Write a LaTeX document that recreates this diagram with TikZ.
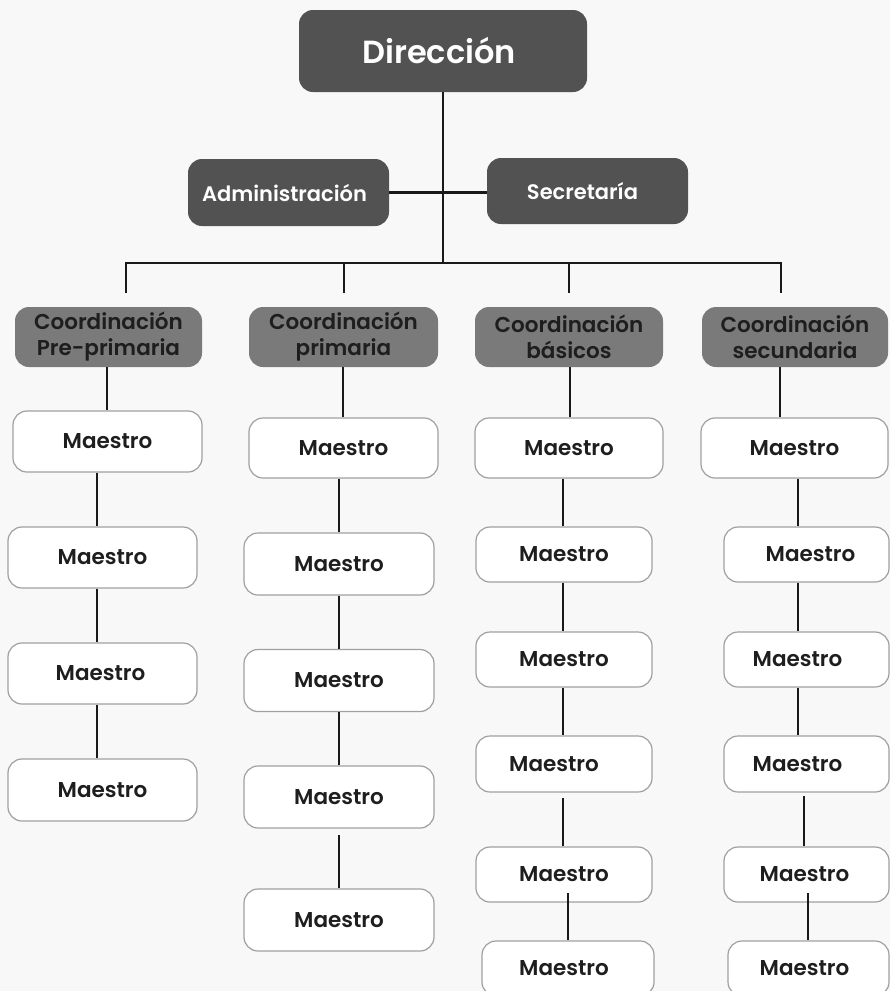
\documentclass[tikz,border=0pt]{standalone}
\usepackage{fontspec}
\setmainfont{Poppins}
\newfontfamily\medfont{Poppins Medium}
\newfontfamily\semifont{Poppins SemiBold}
\definecolor{darkgray1}{HTML}{525252}
\definecolor{cgray}{HTML}{7A7A7A}
\definecolor{bgc}{HTML}{F8F8F8}
\definecolor{mborder}{HTML}{A0A0A0}
\definecolor{txtdark}{HTML}{1E1E1E}
\newcommand\txsh[1]{\hspace*{#1pt}\hspace*{#1pt}}
\begin{document}
\begin{tikzpicture}[x=1pt,y=-1pt,
  box/.style={rounded corners=14pt, inner sep=0pt, anchor=center},
  topbox/.style={box, fill=darkgray1, text=white, font=\semifont\fontsize{21}{24}\selectfont},
  crdbox/.style={box, fill=cgray, text=txtdark, align=center, font=\semifont\fontsize{21.5}{26}\selectfont},
  mbox/.style={box, fill=white, draw=mborder, line width=1.2pt, text=txtdark, font=\semifont\fontsize{21.5}{24}\selectfont},
  conn/.style={line width=2.8pt, draw=black!90}]
\fill[bgc] (0,0) rectangle (890,991);
\useasboundingbox (0,0) rectangle (890,991);

% top level
\node[topbox, font=\semifont\fontsize{32}{36}\selectfont, minimum width=288pt, minimum height=82pt] (dir) at (443,51) {\txsh{-4}Dirección};
\node[topbox, minimum width=201pt, minimum height=67pt] (adm) at (288.5,192.5) {\txsh{-4}Administración};
\node[topbox, minimum width=201pt, minimum height=66pt] (sec) at (587.5,191) {\txsh{-5}Secretaría};

% coordinations
\node[crdbox, minimum width=187pt, minimum height=60pt] (cPre) at (108.5,337) {Coordinación\\Pre-primaria};
\node[crdbox, minimum width=189pt, minimum height=60pt] (cPri) at (343.5,337) {Coordinación\\primaria};
\node[crdbox, minimum width=188pt, minimum height=60pt] (cBas) at (569,337) {Coordinación\\básicos};
\node[crdbox, minimum width=186pt, minimum height=60pt] (cSec) at (795,337) {Coordinación\\secundaria};

% Pre-primaria teachers
\node[mbox, minimum width=189pt, minimum height=61pt] (pM1) at (107.5,441.5) {Maestro};
\node[mbox, minimum width=189pt, minimum height=61pt] (pM2) at (102.5,557.5) {Maestro};
\node[mbox, minimum width=189pt, minimum height=61pt] (pM3) at (102.5,673.5) {\txsh{-2}Maestro};
\node[mbox, minimum width=189pt, minimum height=62pt] (pM4) at (102.5,790) {Maestro};

% primaria teachers
\node[mbox, minimum width=189pt, minimum height=60pt] (rM1) at (343.5,448) {Maestro};
\node[mbox, minimum width=190pt, minimum height=62pt] (rM2) at (339,564) {Maestro};
\node[mbox, minimum width=190pt, minimum height=62pt] (rM3) at (339,680.5) {Maestro};
\node[mbox, minimum width=190pt, minimum height=62pt] (rM4) at (339,797) {Maestro};
\node[mbox, minimum width=190pt, minimum height=62pt] (rM5) at (339,920) {Maestro};

% basicos teachers
\node[mbox, minimum width=188pt, minimum height=60pt] (bM1) at (569,448) {Maestro};
\node[mbox, minimum width=176pt, minimum height=55pt] (bM2) at (564,554.5) {Maestro};
\node[mbox, minimum width=176pt, minimum height=55pt] (bM3) at (564,659.5) {Maestro};
\node[mbox, minimum width=176pt, minimum height=56pt] (bM4) at (564,764) {\txsh{-10}Maestro};
\node[mbox, minimum width=176pt, minimum height=55pt] (bM5) at (564,874.5) {Maestro};
\node[mbox, minimum width=172pt, minimum height=55pt] (bM6) at (568,968.5) {\txsh{-4}Maestro};

% secundaria teachers
\node[mbox, minimum width=187pt, minimum height=60pt] (sM1) at (794.5,448) {Maestro};
\node[mbox, minimum width=165pt, minimum height=55pt] (sM2) at (806.5,554.5) {\txsh{4}Maestro};
\node[mbox, minimum width=165pt, minimum height=55pt] (sM3) at (806.5,659.5) {\txsh{-9}Maestro};
\node[mbox, minimum width=165pt, minimum height=56pt] (sM4) at (806.5,764) {\txsh{-9}Maestro};
\node[mbox, minimum width=165pt, minimum height=55pt] (sM5) at (806.5,874.5) {\txsh{-2}Maestro};
\node[mbox, minimum width=161pt, minimum height=55pt] (sM6) at (808.5,968.5) {\txsh{-4}Maestro};

% bus coordinates
\coordinate (busL) at (126,263);
\coordinate (busM) at (443,263);
\coordinate (busR) at (781,263);
\coordinate (bus2) at (344,263);
\coordinate (bus3) at (569,263);
\coordinate (d1) at (126,293);
\coordinate (d2) at (344,293);
\coordinate (d3) at (569,293);
\coordinate (d4) at (781,293);

% column x coordinates
\coordinate (xa0) at (107,0);
\coordinate (xa) at (97,0);
\coordinate (xr0) at (343,0);
\coordinate (xr) at (339,0);
\coordinate (xb0) at (570,0);
\coordinate (xb) at (563,0);
\coordinate (xs0) at (780,0);
\coordinate (xs) at (798,0);
% free line starts
\coordinate (g1) at (339,835);
\coordinate (g2) at (563,798);
\coordinate (g3) at (804,796);
\coordinate (g4) at (568,893);
\coordinate (g5) at (808,893);

% top connectors
\draw[conn] (dir.south) -- (busM);
\draw[conn] (adm.east) -- (adm.east -| sec.west);
\draw[conn] (d1) -- (busL) -- (busR) -- (d4);
\draw[conn] (bus2) -- (d2);
\draw[conn] (bus3) -- (d3);

% pre-primaria column
\draw[conn] (cPre.south -| xa0) -- (pM1.north -| xa0);
\draw[conn] (pM1.south -| xa) -- (pM2.north -| xa);
\draw[conn] (pM2.south -| xa) -- (pM3.north -| xa);
\draw[conn] (pM3.south -| xa) -- (pM4.north -| xa);

% primaria column
\draw[conn] (cPri.south -| xr0) -- (rM1.north -| xr0);
\draw[conn] (rM1.south -| xr) -- (rM2.north -| xr);
\draw[conn] (rM2.south -| xr) -- (rM3.north -| xr);
\draw[conn] (rM3.south -| xr) -- (rM4.north -| xr);
\draw[conn] (g1) -- (rM5.north -| g1);

% basicos column
\draw[conn] (cBas.south -| xb0) -- (bM1.north -| xb0);
\draw[conn] (bM1.south -| xb) -- (bM2.north -| xb);
\draw[conn] (bM2.south -| xb) -- (bM3.north -| xb);
\draw[conn] (bM3.south -| xb) -- (bM4.north -| xb);
\draw[conn] (g2) -- (bM5.north -| g2);
\draw[conn] (g4) -- (bM6.north -| g4);

% secundaria column
\draw[conn] (cSec.south -| xs0) -- (sM1.north -| xs0);
\draw[conn] (sM1.south -| xs) -- (sM2.north -| xs);
\draw[conn] (sM2.south -| xs) -- (sM3.north -| xs);
\draw[conn] (sM3.south -| xs) -- (sM4.north -| xs);
\draw[conn] (g3) -- (sM5.north -| g3);
\draw[conn] (g5) -- (sM6.north -| g5);
\end{tikzpicture}
\end{document}
